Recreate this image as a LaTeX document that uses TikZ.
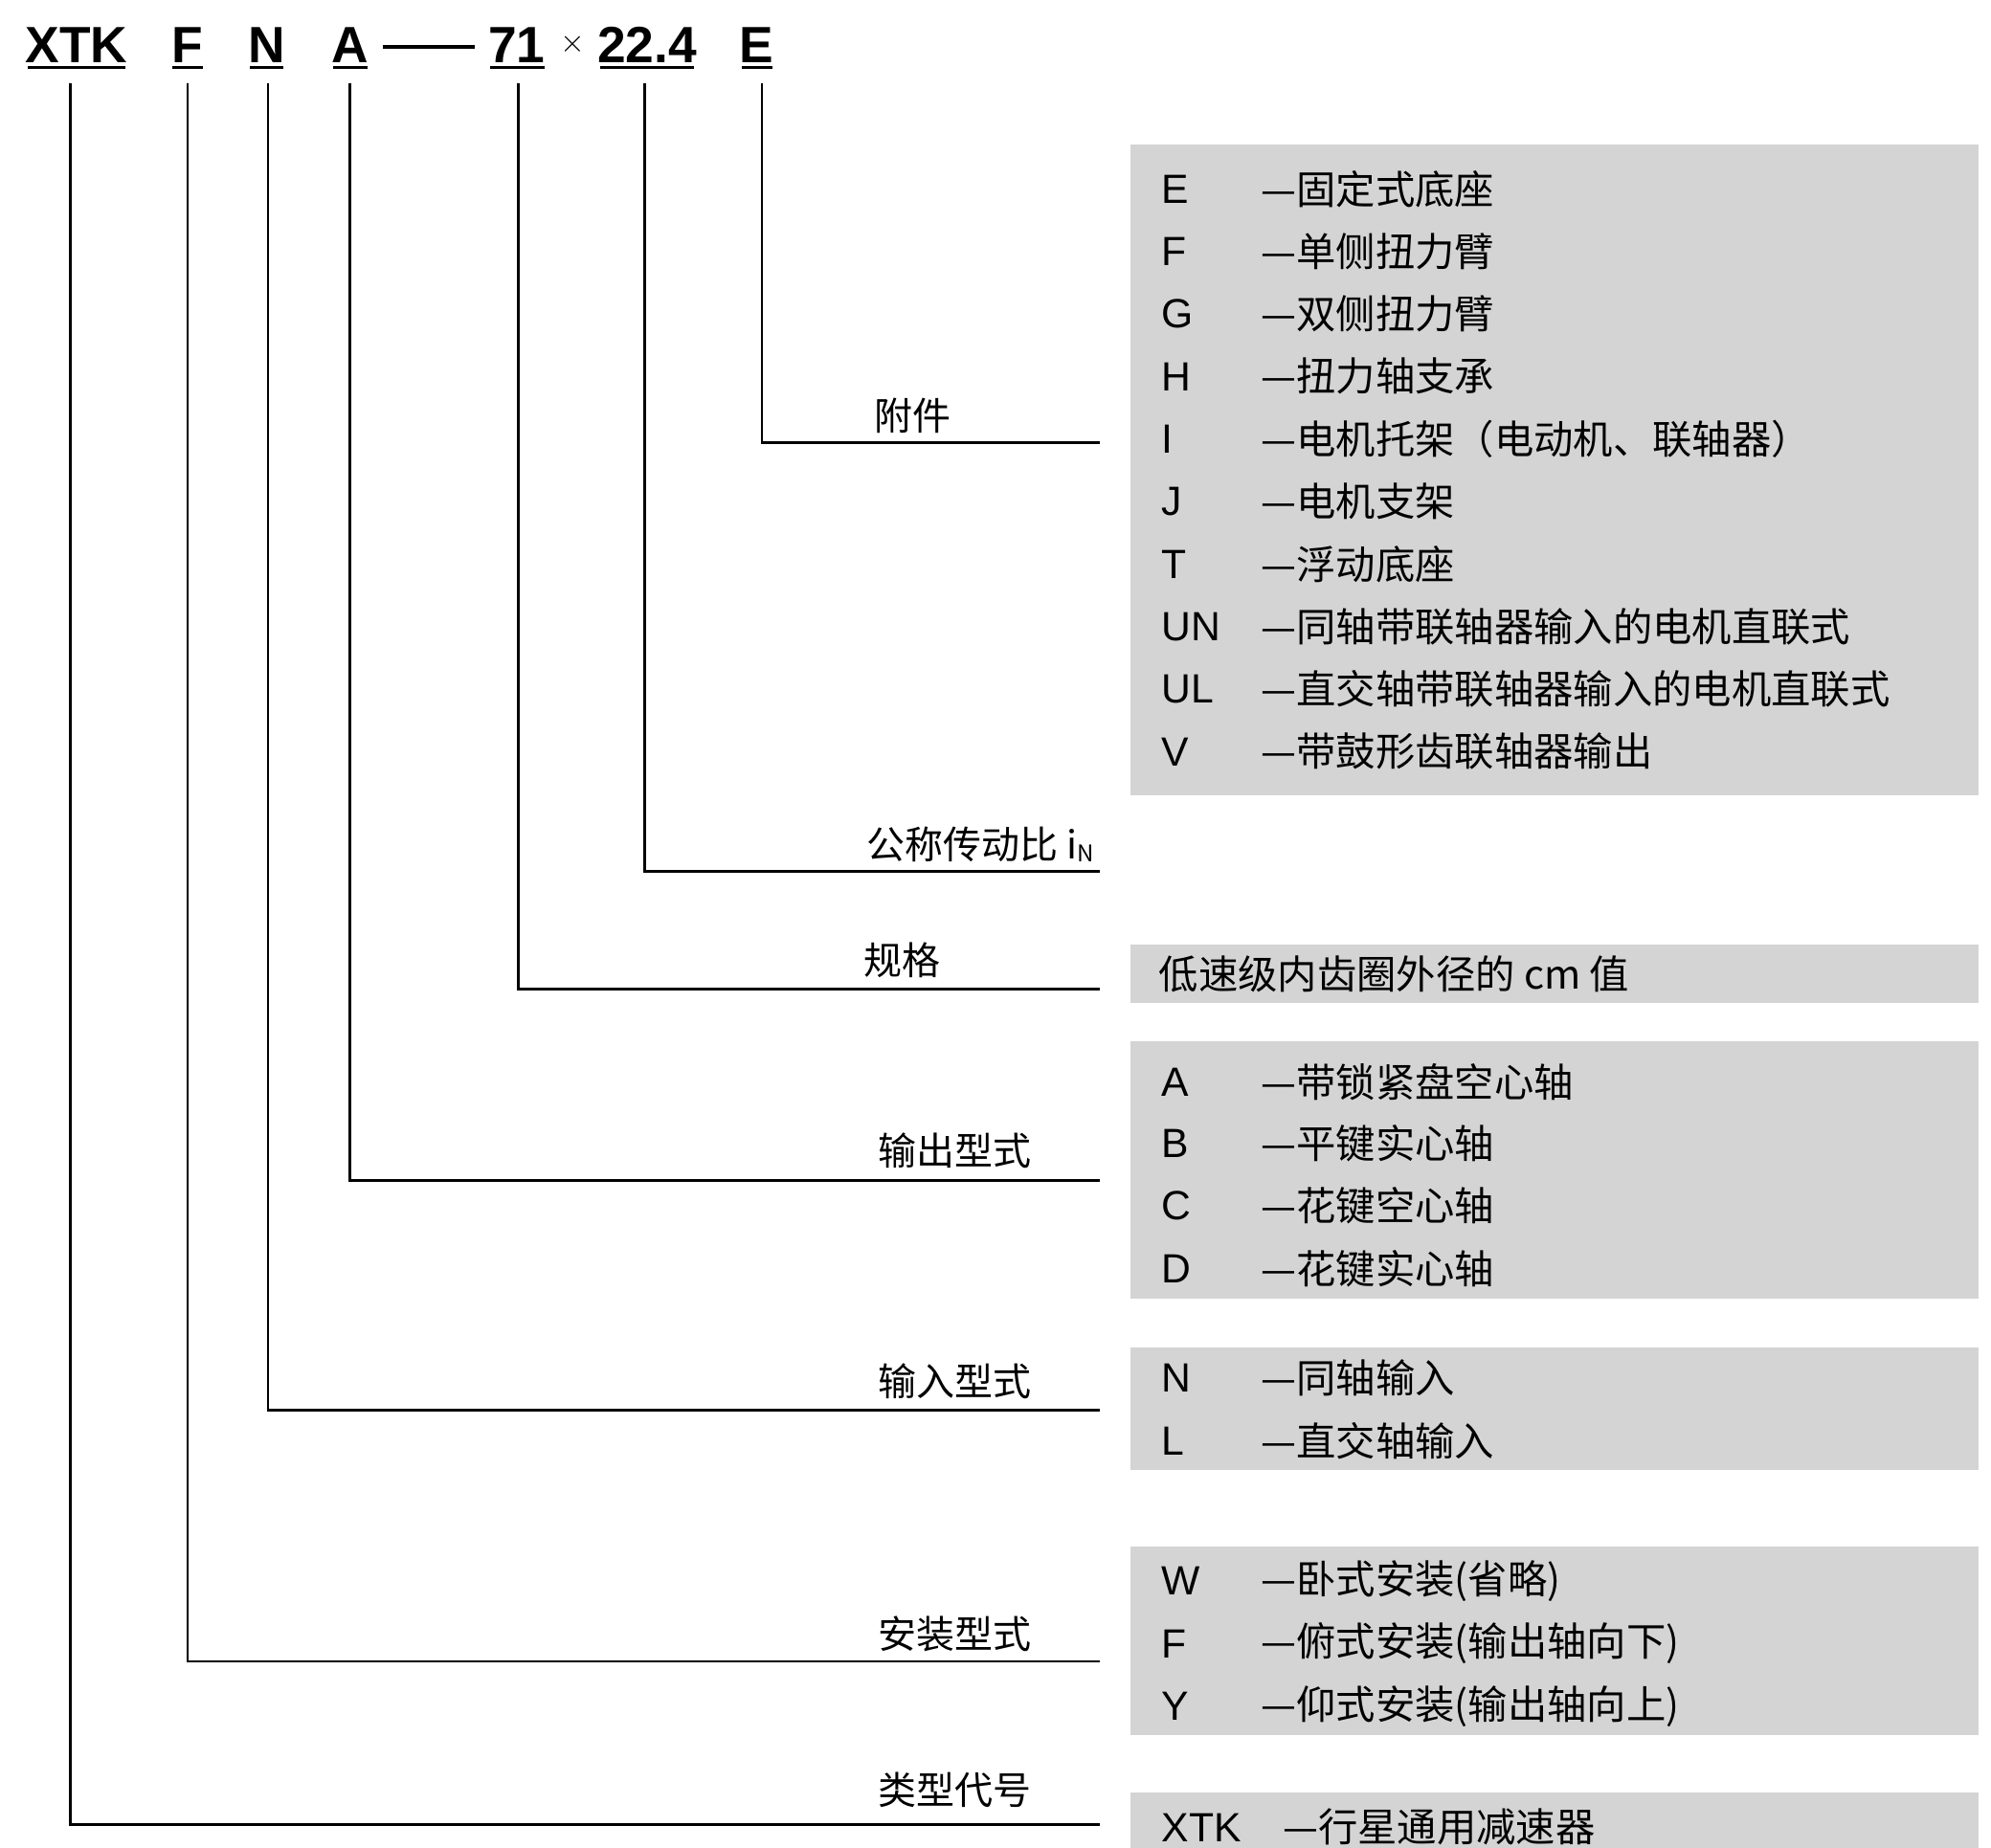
\documentclass[tikz,border=0pt]{standalone}
\usepackage{fontspec}
\setmainfont{Liberation Sans}
\newfontfamily\cjk{Noto Sans CJK SC}
\begin{document}
\begin{tikzpicture}[x=1pt,y=-1pt,
  ttl/.style={font=\fontsize{40}{44}\selectfont\bfseries,inner sep=0pt},
  lbl/.style={font=\fontsize{30}{34}\selectfont\cjk,inner sep=0pt,anchor=base},
  ltr/.style={font=\fontsize{32}{36}\selectfont,inner sep=0pt,anchor=west},
  itm/.style={font=\fontsize{31}{36}\selectfont\cjk,inner sep=0pt,anchor=west},
  box/.style={fill=black!17,draw=none},
  ln/.style={line width=2pt}]
\useasboundingbox (0,0) rectangle (1560,1448);
% title
\node[ttl] (tX) at (60,35) {XTK};
\node[ttl] (tF) at (147,35) {F};
\node[ttl] (tN) at (209,35) {N};
\node[ttl] (tA) at (274,35) {A};
\node[ttl] (t71) at (405,35) {71};
\node[ttl] (tx) at (449,35) {$\times$};
\node[ttl] (t22) at (507,35) {22.4};
\node[ttl] (tE) at (593,35) {E};
\draw[line width=3pt] (300,37) -- (372,37);
\foreach \n/\a/\b in {tX/22/98,tF/135/159,tN/196/222,tA/261/288,t71/384/427,t22/470/544,tE/581/605}
  \draw[ln] (\a,53) -- (\b,53);
% boxes
\fill[box] (886,113) rectangle (1550,623);
\fill[box] (886,740) rectangle (1550,786);
\fill[box] (886,816) rectangle (1550,1018);
\fill[box] (886,1056) rectangle (1550,1152);
\fill[box] (886,1212) rectangle (1550,1360);
\fill[box] (886,1405) rectangle (1550,1450);
% connectors
\coordinate (e1) at (862,347);
\coordinate (e2) at (862,683);
\coordinate (e3) at (862,775);
\coordinate (e4) at (862,925);
\coordinate (e5) at (862,1105);
\coordinate (e6) at (862,1302);
\coordinate (e7) at (862,1430);
\draw[ln] (597,65) |- (e1);
\draw[ln] (505,65) |- (e2);
\draw[ln] (406,65) |- (e3);
\draw[ln] (274,65) |- (e4);
\draw[ln] (210,65) |- (e5);
\draw[ln] (147,65) |- (e6);
\draw[ln] (55,65) |- (e7);
% labels
\node[lbl] (l1) at (715,337) {附件};
\node[lbl] (l2) at (768,673) {公称传动比 i\raisebox{-2pt}{\fontsize{18}{20}\selectfont N}};
\node[lbl] (l3) at (707,764) {规格};
\node[lbl] (l4) at (748,913) {输出型式};
\node[lbl] (l5) at (748,1094) {输入型式};
\node[lbl] (l6) at (748,1292) {安装型式};
\node[lbl] (l7) at (748,1414) {类型代号};
% items
\foreach \y/\l/\t [count=\i] in {148/E/固定式底座,197/F/单侧扭力臂,246/G/双侧扭力臂,295/H/扭力轴支承,344/I/电机托架（电动机、联轴器）,393/J/电机支架,442/T/浮动底座,491/UN/同轴带联轴器输入的电机直联式,540/UL/直交轴带联轴器输入的电机直联式,589/V/带鼓形齿联轴器输出}
 {\node[ltr] (a\i) at (910,\y) {\l}; \node[itm] (b\i) at (988,\y) {—\t};}
\node[itm] (s1) at (908,763) {低速级内齿圈外径的 cm 值};
\foreach \y/\l/\t [count=\i] in {848/A/带锁紧盘空心轴,896/B/平键实心轴,945/C/花键空心轴,994/D/花键实心轴}
 {\node[ltr] (c\i) at (910,\y) {\l}; \node[itm] (d\i) at (988,\y) {—\t};}
\foreach \y/\l/\t [count=\i] in {1080/N/同轴输入,1129/L/直交轴输入}
 {\node[ltr] (f\i) at (910,\y) {\l}; \node[itm] (g\i) at (988,\y) {—\t};}
\foreach \y/\l/\t [count=\i] in {1239/W/卧式安装(省略),1288/F/俯式安装(输出轴向下),1337/Y/仰式安装(输出轴向上)}
 {\node[ltr] (h\i) at (910,\y) {\l}; \node[itm] (k\i) at (988,\y) {—\t};}
\node[ltr] (m1) at (910,1432) {XTK};
\node[itm] (m2) at (1005,1432) {—行星通用减速器};
\end{tikzpicture}
\end{document}
